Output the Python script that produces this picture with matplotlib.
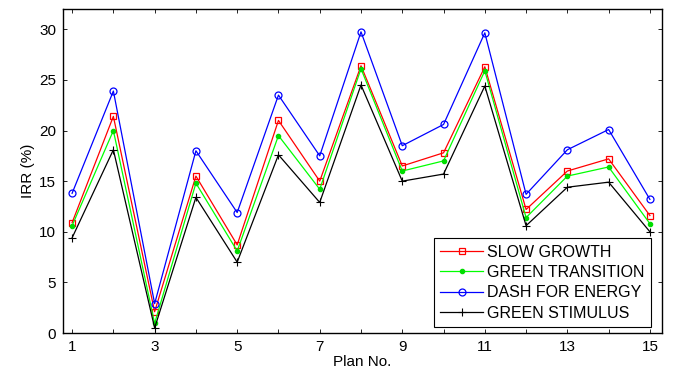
import numpy as np
import matplotlib
matplotlib.use("Agg")
import matplotlib.pyplot as plt

plt.rcParams["font.family"] = ["Liberation Sans", "DejaVu Sans"]

# IRR (%) per plan
plans = np.arange(1, 16)
slow_growth = [10.9, 21.4, 2.1, 15.5, 8.7, 21.0, 15.0, 26.4, 16.5, 17.8, 26.3, 12.2, 16.0, 17.2, 11.6]
green_transition = [10.6, 20.0, 0.95, 14.8, 8.1, 19.5, 14.2, 26.1, 16.0, 17.0, 25.9, 11.4, 15.5, 16.4, 10.8]
dash_for_energy = [13.8, 23.9, 2.9, 18.0, 11.9, 23.5, 17.5, 29.75, 18.5, 20.6, 29.65, 13.7, 18.1, 20.1, 13.2]
green_stimulus = [9.4, 18.1, 0.5, 13.4, 7.0, 17.6, 12.9, 24.5, 15.0, 15.7, 24.4, 10.6, 14.4, 14.9, 10.0]

x_ticks = [1, 3, 5, 7, 9, 11, 13, 15]
y_ticks = [0, 5, 10, 15, 20, 25, 30]

fig = plt.figure(figsize=(6.74, 3.77), dpi=100)
ax = fig.add_axes([0.0935, 0.1167, 0.8885, 0.8593])

lw = 0.9
ax.plot(plans, slow_growth, color="#ff0000", lw=lw, marker="s", ms=5,
        mfc="none", mec="#ff0000", mew=0.9, label="SLOW GROWTH")
ax.plot(plans, green_transition, color="#00ff00", lw=lw, marker="o", ms=3,
        mfc="#00dd00", mec="#00dd00", label="GREEN TRANSITION")
ax.plot(plans, dash_for_energy, color="#0000ff", lw=lw, marker="o", ms=5,
        mfc="none", mec="#0000ff", mew=0.9, label="DASH FOR ENERGY")
ax.plot(plans, green_stimulus, color="#000000", lw=lw, marker="+", ms=6,
        mew=0.8, label="GREEN STIMULUS")

ax.set_xlim(0.78, 15.29)
ax.set_ylim(0, 32)
ax.set_xticks(plans, minor=True)
ax.set_xticks(x_ticks)
ax.set_yticks(y_ticks)
ax.tick_params(which="both", direction="in", top=True, right=True,
               length=3, width=0.6, labelsize=11, pad=5)
for s in ax.spines.values():
    s.set_linewidth(1.0)

ax.set_xlabel("Plan No.", fontsize=11, labelpad=1)
ax.set_ylabel("IRR (%)", fontsize=11, labelpad=3)

leg = ax.legend(loc="lower right", bbox_to_anchor=(0.9816, 0.0185), borderaxespad=0,
                fontsize=11.5, frameon=True, fancybox=False,
                edgecolor="black", framealpha=1, borderpad=0.4, labelspacing=0.33,
                handlelength=2.7, handletextpad=0.25)
leg.get_frame().set_linewidth(0.8)

fig.savefig("out.png", dpi=100)
